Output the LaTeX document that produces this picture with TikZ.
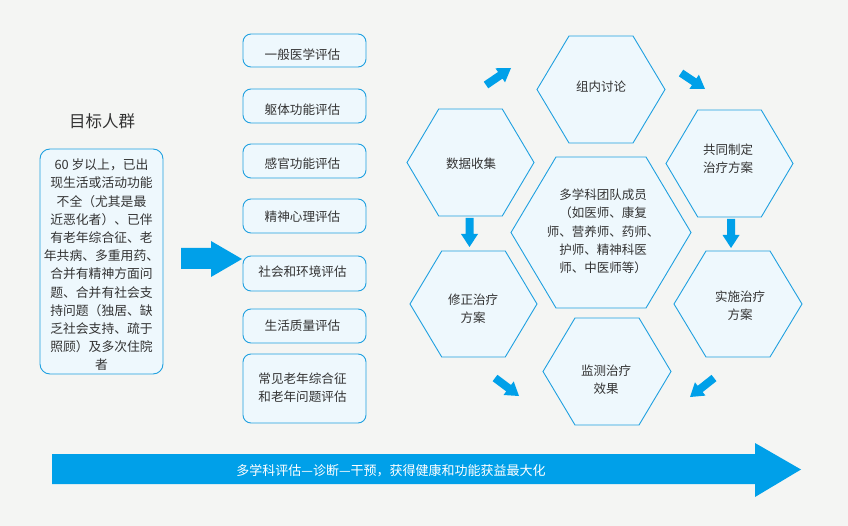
\documentclass[tikz,border=0pt]{standalone}
\usepackage{fontspec}
\setmainfont{Noto Sans CJK SC}
\usetikzlibrary{calc}
\definecolor{bg}{HTML}{F4F5F3}
\definecolor{bd}{HTML}{1FA0E0}
\definecolor{fl}{HTML}{EEF8FD}
\definecolor{ar}{HTML}{00A0E9}
\definecolor{tx}{HTML}{333333}
\newcommand\blkarrow[2]{%
  \coordinate (#1base) at ($(#2)!13pt!(#1)$);
  \fill[ar] ($(#1)!4pt!90:(#2)$) -- ($(#1base)!4pt!90:(#2)$) -- ($(#1base)!8.5pt!90:(#2)$) -- (#2)
    -- ($(#1base)!8.5pt!-90:(#2)$) -- ($(#1base)!4pt!-90:(#2)$) -- ($(#1)!4pt!-90:(#2)$) -- cycle;}
\newcommand\hexshape[3]{%
  \begin{scope}[shift={(#1)}]
    \filldraw[hexline] (-#2,0) -- (-#2/2,-#3) -- (#2/2,-#3) -- (#2,0) -- (#2/2,#3) -- (-#2/2,#3) -- cycle;
  \end{scope}}
\tikzset{
  abox/.style={draw=bd, fill=fl, line width=0.9pt, rounded corners=8pt, minimum width=123pt,
    inner sep=0pt, align=center, text=tx, font=\fontsize{12.6}{18.2}\selectfont},
  atext/.style={text=tx, inner sep=0pt, align=center, font=\fontsize{12.6}{18.2}\selectfont},
  hexline/.style={draw=bd, fill=fl, line width=0.9pt},
  htext/.style={text=tx, align=center, inner sep=0pt, font=\fontsize{12.5}{18.3}\selectfont},
}
\begin{document}
\begin{tikzpicture}[x=1pt,y=-1pt]
\fill[bg] (0,0) rectangle (848,526);
\useasboundingbox (0,0) rectangle (848,526);

% target group
\node[text=tx, font=\fontsize{16.5}{18}\selectfont] (title) at (102,121) {目标人群};
\node[abox, minimum height=225pt, rounded corners=10pt] (target) at (101.5,261.5) {};
\node[text=tx, align=center, inner sep=0pt, font=\fontsize{12.8}{18.2}\selectfont] (targettext) at (101.5,265) {%
60 岁以上，已出\\现生活或活动功能\\不全（尤其是最\\近恶化者）、已伴\\有老年综合征、老\\年共病、多重用药、\\合并有精神方面问\\题、合并有社会支\\持问题（独居、缺\\乏社会支持、疏于\\照顾）及多次住院\\者};

% big arrow to assessments
\fill[ar] (181,248) -- (211,248) -- (211,241) -- (242,259) -- (211,277) -- (211,269) -- (181,269) -- cycle;

% assessment boxes
\node[abox, minimum height=33pt] (e1) at (304.5,50.5) {};
\node[abox, minimum height=34pt] (e2) at (304.5,106) {};
\node[abox, minimum height=34pt] (e3) at (304.5,161) {};
\node[abox, minimum height=34pt] (e4) at (304.5,216) {};
\node[abox, minimum height=35pt] (e5) at (304.5,273.5) {};
\node[abox, minimum height=34pt] (e6) at (304.5,326) {};
\node[abox, minimum height=69pt] (e7) at (304.5,388.5) {};
\node[atext] (e1t) at (302.5,54.5) {一般医学评估};
\node[atext] (e2t) at (302.5,109.5) {躯体功能评估};
\node[atext] (e3t) at (302.5,163.5) {感官功能评估};
\node[atext] (e4t) at (302.5,217) {精神心理评估};
\node[atext] (e5t) at (302.5,271.5) {社会和环境评估};
\node[atext] (e6t) at (302.5,326) {生活质量评估};
\node[atext] (e7t) at (302.5,388) {常见老年综合征\\和老年问题评估};

% hexagons
\coordinate (cz) at (601,89.5);
\coordinate (cs) at (470.5,162.5);
\coordinate (cg) at (729.5,163.5);
\coordinate (cm) at (601,232.5);
\coordinate (cx) at (473.5,304);
\coordinate (cc) at (738,304);
\coordinate (cj) at (607,371.5);
\hexshape{cz}{64}{53.5}
\hexshape{cs}{63.5}{53.5}
\hexshape{cg}{63.5}{53.5}
\hexshape{cm}{90}{75.5}
\hexshape{cx}{63.5}{53}
\hexshape{cc}{64}{53}
\hexshape{cj}{64}{53.5}
\node[htext] (tz) at (601,87) {组内讨论};
\node[htext] (ts) at (471,164) {数据收集};
\node[htext] (tg) at (728,158.5) {共同制定\\治疗方案};
\node[htext] (tm) at (603,231.5) {多学科团队成员\\（如医师、康复\\师、营养师、药师、\\护师、精神科医\\师、中医师等）};
\node[htext] (tx1) at (473,308.5) {修正治疗\\方案};
\node[htext] (tc) at (740,306) {实施治疗\\方案};
\node[htext] (tj) at (606,380) {监测治疗\\效果};

% small arrows
\coordinate (a1t) at (486,85);   \coordinate (a1h) at (511,68);
\coordinate (a2t) at (681,73);   \coordinate (a2h) at (705,89);
\coordinate (a3t) at (731,219);  \coordinate (a3h) at (731,248);
\coordinate (a4t) at (469.5,218);\coordinate (a4h) at (469.5,247);
\coordinate (a5t) at (495,378);  \coordinate (a5h) at (519,396);
\coordinate (a6t) at (714,378);  \coordinate (a6h) at (690,397);
\blkarrow{a1t}{a1h}
\blkarrow{a2t}{a2h}
\blkarrow{a3t}{a3h}
\blkarrow{a4t}{a4h}
\blkarrow{a5t}{a5h}
\blkarrow{a6t}{a6h}

% bottom arrow
\fill[ar] (52,454) -- (755,454) -- (755,443) -- (801,469.5) -- (755,497) -- (755,484) -- (52,484) -- cycle;
\node[text=white, font=\fontsize{13}{15}\selectfont] (goal) at (391,470.5) {多学科评估—诊断—干预，获得健康和功能获益最大化};
\end{tikzpicture}
\end{document}
